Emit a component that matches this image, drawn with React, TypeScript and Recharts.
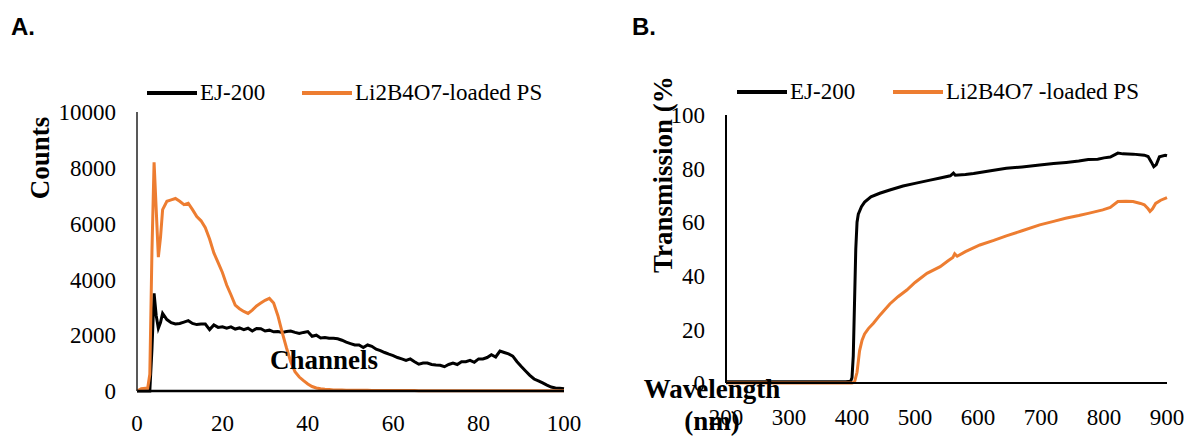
import React from 'react';
import { LineChart, Line, XAxis, YAxis } from 'recharts';

// ---------- Panel A: pulse-height spectra ----------
const channels = [
  0, 1, 2, 2.5, 3, 3.5, 4, 4.5, 5, 5.5, 6, 7, 8, 9, 10, 11, 12, 13, 14, 15, 16, 17, 18, 19, 20,
  21, 22, 23, 24, 25, 26, 27, 28, 29, 30, 31, 32, 33, 34, 35, 36, 37, 38, 39, 40,
  41, 42, 43, 44, 45, 46, 47, 48, 49, 50, 51, 52, 53, 54, 55, 56, 57, 58, 59, 60,
  61, 62, 63, 64, 65, 66, 67, 68, 69, 70, 71, 72, 73, 74, 75, 76, 77, 78, 79, 80,
  81, 82, 83, 84, 85, 86, 87, 88, 89, 90, 91, 92, 93, 94, 95, 96, 97, 98, 99, 100,
];
const ej200Counts = [
  0, 0, 0, 0, 0, 1500, 3500, 2700, 2250, 2450, 2780, 2560, 2450, 2400, 2420, 2470, 2520, 2420, 2380, 2400, 2400, 2200, 2370, 2280, 2300,
  2250, 2300, 2220, 2260, 2200, 2250, 2150, 2240, 2230, 2150, 2180, 2120, 2130, 2100, 2130, 2150, 2100, 2060, 2100, 2130,
  1960, 2000, 1900, 1920, 1890, 1890, 1870, 1820, 1750, 1700, 1650, 1650, 1560, 1650, 1600, 1500, 1450, 1380, 1320, 1270,
  1200, 1150, 1100, 1150, 1050, 960, 1000, 1000, 950, 930, 920, 870, 950, 1000, 950, 1050, 1050, 1100, 1030, 1150,
  1150, 1200, 1300, 1220, 1430, 1380, 1330, 1250, 1050, 880, 720, 560, 430, 360, 290, 210, 140, 110, 100, 80,
];
const li2b4o7Counts = [
  0, 80, 100, 100, 600, 5000, 8200, 6500, 4800, 5500, 6500, 6800, 6850, 6900, 6800, 6680, 6730, 6500, 6250, 6100, 5850, 5450, 4950, 4600, 4250,
  3800, 3450, 3080, 2950, 2850, 2780, 2900, 3050, 3150, 3250, 3320, 3150, 2700, 2100, 1550, 1050, 690, 500, 370, 250,
  160, 110, 80, 60, 50, 40, 35, 32, 30, 30, 28, 26, 25, 24, 22, 22, 20, 20, 20, 18,
  16, 15, 15, 14, 14, 13, 13, 12, 12, 12, 12, 11, 11, 11, 11, 10, 10, 10, 10, 10,
  10, 10, 10, 10, 10, 10, 10, 10, 10, 10, 10, 10, 10, 10, 10, 10, 10, 10, 10, 10,
];
const countTicks = [0, 2000, 4000, 6000, 8000, 10000];
const channelTicks = [0, 20, 40, 60, 80, 100];

// ---------- Panel B: transmission spectra ----------
const wavelengthEJ = [
  200, 250, 300, 350, 390, 398, 400, 402, 404, 406, 408, 410, 415, 420, 430, 444, 460, 481, 500, 524,
  540, 556, 561, 564, 580, 593, 620, 645, 670, 698, 720, 740, 760, 775, 790, 800, 810, 822, 830, 846,
  864, 870, 875, 879, 883, 888, 897, 900,
];
const transEJ = [
  0.5, 0.5, 0.5, 0.5, 0.5, 0.7, 2, 10, 30, 50, 60, 63, 65.8, 67.5, 69.5, 70.8, 72, 73.5, 74.5, 75.7,
  76.5, 77.3, 78.3, 77.5, 77.8, 78.2, 79.2, 80.1, 80.6, 81.3, 81.9, 82.3, 82.8, 83.4, 83.5, 84, 84.3, 85.8, 85.5, 85.4,
  85, 84.5, 82.5, 80.7, 81.5, 84.4, 85, 84.8,
];
const wavelengthLi = [
  200, 250, 300, 350, 400, 404, 408, 412, 416, 420, 426, 434, 445, 460, 473, 487, 500, 519, 540, 552,
  560, 563, 567, 580, 603, 625, 645, 670, 698, 720, 739, 760, 775, 798, 810, 822, 835, 846, 858, 864,
  870, 873, 877, 882, 890, 900,
];
const transLi = [
  0, 0, 0, 0, 0, 0.3, 4, 12, 16, 18.3, 20.3, 22.3, 25.5, 29.5, 32.2, 34.7, 37.5, 40.9, 43.4, 45.5,
  46.8, 48.2, 47.3, 49, 51.5, 53.2, 54.9, 56.8, 59, 60.3, 61.5, 62.5, 63.3, 64.6, 65.5, 67.7, 67.8, 67.7, 67, 66.5,
  65, 64, 65, 67, 68.2, 69.2,
];
const transTicks = [0, 20, 40, 60, 80, 100];
const wavelengthTicks = [200, 300, 400, 500, 600, 700, 800, 900];

const ORANGE = '#ED7D31';
const SERIF = '"Liberation Serif", "Times New Roman", serif';
const SANS = '"Liberation Sans", Arial, sans-serif';

const seriesA = [
  { key: 'ej', name: 'EJ-200', color: '#000000' },
  { key: 'li', name: 'Li2B4O7-loaded PS', color: ORANGE },
];
const seriesB = [
  { key: 'ej', name: 'EJ-200', color: '#000000' },
  { key: 'li', name: 'Li2B4O7 -loaded PS', color: ORANGE },
];

const dataA = channels.map((c, i) => ({ channel: c, ej: ej200Counts[i], li: li2b4o7Counts[i] }));
const dataEJ = wavelengthEJ.map((w, i) => ({ wl: w, t: transEJ[i] }));
const dataLi = wavelengthLi.map((w, i) => ({ wl: w, t: transLi[i] }));

const tickStyle = { fill: '#000', fontSize: 23, fontFamily: SERIF };
const titleStyle: React.CSSProperties = { fontFamily: SERIF, fontWeight: 'bold', fontSize: 27, fill: '#000' };

const countsLabel = (props: any) => {
  const vb = props.viewBox;
  const x = vb.x + 49;
  const y = vb.y + 46;
  return (
    <text x={x} y={y} transform={`rotate(-90 ${x} ${y})`} textAnchor="middle" style={titleStyle}>
      Counts
    </text>
  );
};
const channelsLabel = (props: any) => {
  const vb = props.viewBox;
  return (
    <text x={vb.x + 187} y={vb.y - 22} textAnchor="middle" style={titleStyle}>
      Channels
    </text>
  );
};
const transLabel = (props: any) => {
  const vb = props.viewBox;
  const x = vb.x + 72;
  const y = vb.y + 158;
  return (
    <text x={x} y={y} transform={`rotate(-90 ${x} ${y})`} textAnchor="start" style={titleStyle}>
      Transmission (%
    </text>
  );
};
const wavelengthLabel = (props: any) => {
  const vb = props.viewBox;
  return (
    <g>
      <text x={vb.x - 14} y={vb.y + 15} textAnchor="middle" style={titleStyle}>
        Wavelength
      </text>
      <text x={vb.x - 14} y={vb.y + 47} textAnchor="middle" style={titleStyle}>
        (nm)
      </text>
    </g>
  );
};

function LegendItems({ items, lefts, top }: { items: typeof seriesA; lefts: number[]; top: number }) {
  return (
    <>
      {items.map((s, i) => (
        <div
          key={s.key}
          style={{
            position: 'absolute',
            left: lefts[i],
            top: top - 15,
            height: 30,
            display: 'flex',
            alignItems: 'center',
            whiteSpace: 'nowrap',
            fontFamily: SERIF,
            fontSize: 23,
            color: '#000',
          }}
        >
          <svg width={50} height={6} style={{ display: 'block', marginRight: 3 }}>
            <line x1={0} y1={3} x2={50} y2={3} stroke={s.color} strokeWidth={4} />
          </svg>
          <span>{s.name}</span>
        </div>
      ))}
    </>
  );
}

export default function App() {
  return (
    <div style={{ position: 'absolute', left: 0, top: 0, width: 1189, height: 436, background: '#fff', overflow: 'hidden' }}>
      <div style={{ position: 'absolute', left: 11, top: 13, fontFamily: SANS, fontWeight: 'bold', fontSize: 24 }}>A.</div>
      <div style={{ position: 'absolute', left: 632, top: 13, fontFamily: SANS, fontWeight: 'bold', fontSize: 24 }}>B.</div>

      <div style={{ position: 'absolute', left: 0, top: 0 }}>
        <LineChart width={600} height={436} data={dataA} margin={{ top: 112, right: 36, left: 0, bottom: 0 }}>
          <XAxis
            dataKey="channel"
            type="number"
            domain={[0, 100]}
            ticks={channelTicks}
            interval={0}
            height={45}
            tickSize={0}
            tickMargin={24}
            tickLine={false}
            axisLine={{ stroke: '#000', strokeWidth: 2.5 }}
            tick={tickStyle}
            label={channelsLabel}
          />
          <XAxis xAxisId="top" orientation="top" type="number" domain={[0, 100]} height={0} tick={false} tickLine={false} axisLine={{ stroke: '#595959', strokeWidth: 1.5 }} />
          <YAxis
            type="number"
            domain={[0, 10000]}
            ticks={countTicks}
            interval={0}
            width={137}
            tickSize={0}
            tickMargin={21}
            tickLine={false}
            axisLine={{ stroke: '#222', strokeWidth: 1.5 }}
            tick={tickStyle}
            label={countsLabel}
          />
          <YAxis yAxisId="right" orientation="right" type="number" domain={[0, 10000]} width={0} tick={false} tickLine={false} axisLine={{ stroke: '#595959', strokeWidth: 1.5 }} />
          {seriesA.map((s) => (
            <Line key={s.key} dataKey={s.key} name={s.name} type="linear" stroke={s.color} strokeWidth={3} dot={false} isAnimationActive={false} />
          ))}
        </LineChart>
      </div>

      <div style={{ position: 'absolute', left: 600, top: 0 }}>
        <LineChart width={589} height={436} margin={{ top: 115, right: 22, left: 0, bottom: 0 }}>
          <XAxis
            dataKey="wl"
            type="number"
            domain={[200, 900]}
            ticks={wavelengthTicks}
            interval={0}
            height={53}
            tickSize={0}
            tickMargin={26}
            tickLine={false}
            axisLine={{ stroke: '#000', strokeWidth: 2 }}
            tick={tickStyle}
            label={wavelengthLabel}
            allowDuplicatedCategory={false}
          />
          <XAxis xAxisId="top" orientation="top" type="number" domain={[200, 900]} height={0} tick={false} tickLine={false} axisLine={{ stroke: '#7f7f7f', strokeWidth: 1.5 }} />
          <YAxis
            type="number"
            domain={[0, 100]}
            ticks={transTicks}
            interval={0}
            width={126}
            tickSize={0}
            tickMargin={21}
            tickLine={false}
            axisLine={{ stroke: '#000', strokeWidth: 2 }}
            tick={tickStyle}
            label={transLabel}
          />
          <YAxis yAxisId="right" orientation="right" type="number" domain={[0, 100]} width={0} tick={false} tickLine={false} axisLine={{ stroke: '#222', strokeWidth: 1.5 }} />
          <Line data={dataEJ} dataKey="t" name={seriesB[0].name} type="linear" stroke={seriesB[0].color} strokeWidth={3} dot={false} isAnimationActive={false} />
          <Line data={dataLi} dataKey="t" name={seriesB[1].name} type="linear" stroke={seriesB[1].color} strokeWidth={3} dot={false} isAnimationActive={false} />
        </LineChart>
      </div>

      <LegendItems items={seriesA} lefts={[147, 302]} top={93} />
      <LegendItems items={seriesB} lefts={[737, 893]} top={92} />
    </div>
  );
}
